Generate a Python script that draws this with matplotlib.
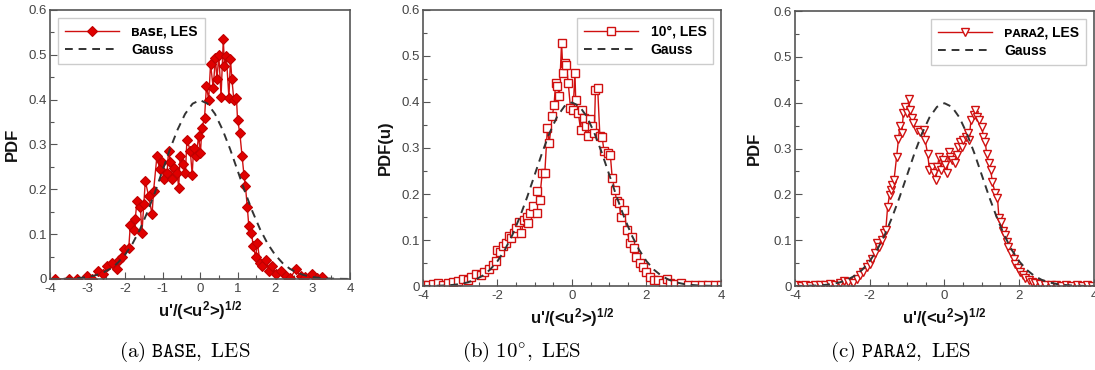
import matplotlib
matplotlib.use("Agg")
import matplotlib.pyplot as plt
from matplotlib.ticker import MultipleLocator, FuncFormatter

plt.rcParams['font.family'] = ['Liberation Sans', 'DejaVu Sans']
plt.rcParams['mathtext.fontset'] = 'custom'
plt.rcParams['mathtext.rm'] = 'Liberation Sans:bold'
plt.rcParams['mathtext.it'] = 'Liberation Sans:bold'
plt.rcParams['mathtext.bf'] = 'Liberation Sans:bold'

# ---------------- data ----------------
base_x = [-3.87, -3.5, -3.27, -3.02, -2.89, -2.71, -2.58, -2.49, -2.35, -2.22, -2.17, -2.08,
          -2.04, -1.9, -1.86, -1.77, -1.73, -1.68, -1.59, -1.55, -1.5, -1.46, -1.37, -1.28,
          -1.24, -1.15, -1.08, -1.02, -0.97, -0.88, -0.84, -0.79, -0.75, -0.7, -0.61, -0.57,
          -0.53, -0.45, -0.39, -0.35, -0.26, -0.21, -0.17, -0.1, -0.04, 0.01, 0.05, 0.12,
          0.17, 0.23, 0.28, 0.35, 0.41, 0.45, 0.5, 0.56, 0.62, 0.65, 0.7, 0.77, 0.81, 0.85,
          0.9, 0.97, 1.0, 1.06, 1.12, 1.17, 1.21, 1.26, 1.3, 1.37, 1.42, 1.48, 1.53, 1.6,
          1.66, 1.75, 1.84, 1.93, 2.02, 2.15, 2.28, 2.41, 2.55, 2.68, 2.81, 2.99, 3.12, 3.26]
base_y = [0.0, 0.0, 0.0, 0.006, 0.0, 0.017, 0.01, 0.028, 0.036, 0.022, 0.043, 0.05,
          0.066, 0.07, 0.12, 0.11, 0.133, 0.174, 0.16, 0.103, 0.167, 0.218, 0.185, 0.144,
          0.196, 0.274, 0.245, 0.26, 0.222, 0.237, 0.286, 0.26, 0.222, 0.248, 0.237, 0.203,
          0.274, 0.256, 0.237, 0.311, 0.286, 0.233, 0.293, 0.274, 0.319, 0.281, 0.337, 0.36,
          0.43, 0.4, 0.48, 0.426, 0.494, 0.445, 0.5, 0.407, 0.535, 0.475, 0.497, 0.404, 0.49, 0.445,
          0.4, 0.404, 0.355, 0.326, 0.274, 0.233, 0.207, 0.16, 0.118, 0.103, 0.073, 0.05, 0.08, 0.036,
          0.028, 0.043, 0.017, 0.028, 0.012, 0.017, 0.006, 0.002, 0.022, 0.006, 0.004, 0.01, 0.002, 0.004]

deg_x = [-4.0, -3.87, -3.74, -3.6, -3.46, -3.33, -3.2, -3.06, -2.93, -2.79, -2.7, -2.58,
         -2.45, -2.36, -2.22, -2.13, -2.04, -2.0, -1.94, -1.85, -1.76, -1.7, -1.63, -1.55,
         -1.49, -1.43, -1.36, -1.29, -1.22, -1.18, -1.12, -1.04, -0.95, -0.93, -0.87, -0.8,
         -0.73, -0.66, -0.61, -0.53, -0.48, -0.44, -0.39, -0.34, -0.28, -0.24, -0.19, -0.15,
         -0.1, -0.04, 0.03, 0.08, 0.1, 0.17, 0.23, 0.28, 0.33, 0.37, 0.43, 0.48, 0.54, 0.6,
         0.63, 0.69, 0.75, 0.81, 0.86, 0.97, 1.03, 1.08, 1.15, 1.2, 1.27, 1.31, 1.4, 1.47,
         1.56, 1.6, 1.67, 1.73, 1.82, 1.91, 2.0, 2.09, 2.21, 2.32, 2.45, 2.54, 2.63, 2.76,
         2.94, 3.12, 3.3, 3.48, 3.66, 3.84, 4.0]
deg_y = [0.002, 0.002, 0.004, 0.006, 0.002, 0.007, 0.009, 0.011, 0.015, 0.013, 0.02, 0.026,
         0.024, 0.031, 0.036, 0.046, 0.054, 0.078, 0.075, 0.086, 0.093, 0.109, 0.104, 0.115,
         0.126, 0.14, 0.115, 0.144, 0.151, 0.137, 0.158, 0.173, 0.158, 0.206, 0.187, 0.245,
         0.245, 0.343, 0.311, 0.369, 0.394, 0.441, 0.434, 0.412, 0.529, 0.463, 0.485, 0.481,
         0.441, 0.387, 0.383, 0.463, 0.405, 0.376, 0.34, 0.383, 0.365, 0.347, 0.325, 0.362, 0.347, 0.333,
         0.427, 0.43, 0.325, 0.324, 0.293, 0.289, 0.285, 0.235, 0.209, 0.184, 0.18, 0.151, 0.166, 0.122,
         0.093, 0.107, 0.082, 0.064, 0.049, 0.042, 0.031, 0.02, 0.013, 0.013, 0.007, 0.015, 0.006, 0.004,
         0.006, 0.003, 0.003, 0.002, 0.002, 0.002, 0.002]

para_x = [-3.98, -3.85, -3.72, -3.59, -3.46, -3.33, -3.2, -3.07, -2.94, -2.79, -2.7, -2.57,
          -2.44, -2.35, -2.26, -2.17, -2.08, -1.99, -1.93, -1.86, -1.81, -1.75, -1.68, -1.63,
          -1.57, -1.52, -1.47, -1.43, -1.39, -1.35, -1.28, -1.23, -1.19, -1.14, -1.1, -1.05,
          -0.99, -0.96, -0.92, -0.87, -0.83, -0.74, -0.65, -0.56, -0.52, -0.45, -0.4, -0.34,
          -0.29, -0.23, -0.19, -0.14, -0.1, -0.05, 0.02, 0.07, 0.11, 0.16, 0.21, 0.27, 0.33,
          0.37, 0.42, 0.46, 0.51, 0.57, 0.62, 0.66, 0.71, 0.78, 0.82, 0.87, 0.93, 1.0, 1.04,
          1.09, 1.13, 1.18, 1.24, 1.28, 1.36, 1.42, 1.46, 1.52, 1.58, 1.62, 1.67, 1.71, 1.78,
          1.85, 1.89, 1.96, 2.03, 2.09, 2.16, 2.25, 2.34, 2.43, 2.56, 2.7, 2.84, 2.98, 3.12,
          3.26, 3.4, 3.54, 3.68, 3.82, 3.96]
para_y = [0.002, 0.001, 0.002, 0.001, 0.003, 0.002, 0.003, 0.004, 0.003, 0.007, 0.011, 0.009,
          0.007, 0.015, 0.024, 0.031, 0.042, 0.049, 0.058, 0.071, 0.093, 0.086, 0.1, 0.115,
          0.122, 0.173, 0.199, 0.209, 0.22, 0.231, 0.282, 0.32, 0.349, 0.333, 0.377, 0.391,
          0.377, 0.409, 0.384, 0.366, 0.355, 0.34, 0.337, 0.34, 0.319, 0.289, 0.253, 0.26,
          0.246, 0.231, 0.26, 0.282, 0.253, 0.275, 0.264, 0.246, 0.293, 0.282, 0.275, 0.268, 0.286,
          0.304, 0.315, 0.304, 0.319, 0.326, 0.333, 0.319, 0.362, 0.373, 0.384, 0.369, 0.362, 0.348, 0.326,
          0.315, 0.289, 0.268, 0.253, 0.228, 0.202, 0.191, 0.148, 0.14, 0.119, 0.111, 0.097, 0.086, 0.071,
          0.06, 0.049, 0.039, 0.031, 0.024, 0.018, 0.013, 0.009, 0.007, 0.004, 0.003, 0.002, 0.002, 0.001,
          0.002, 0.001, 0.002, 0.001, 0.002, 0.001]

gauss_x = [-4.0, -3.8, -3.6, -3.4, -3.2, -3.0, -2.8, -2.6, -2.4, -2.2, -2.0, -1.8, -1.6, -1.4,
           -1.2, -1.0, -0.8, -0.6, -0.4, -0.2, 0.0, 0.2, 0.4, 0.6, 0.8, 1.0, 1.2, 1.4, 1.6,
           1.8, 2.0, 2.2, 2.4, 2.6, 2.8, 3.0, 3.2, 3.4, 3.6, 3.8, 4.0]
gauss_y = [0.0001, 0.0003, 0.0006, 0.0012, 0.0024, 0.0044, 0.0079, 0.0136, 0.0224, 0.0355,
           0.054, 0.079, 0.111, 0.150, 0.194, 0.242, 0.290, 0.333, 0.368, 0.391, 0.399,
           0.391, 0.368, 0.333, 0.290, 0.242, 0.194, 0.150, 0.111, 0.079, 0.054, 0.0355,
           0.0224, 0.0136, 0.0079, 0.0044, 0.0024, 0.0012, 0.0006, 0.0003, 0.0001]

labels = ["\u0299\u1d00\ua731\u1d07, LES", "10\u00b0, LES", "\u1d18\u1d00\u0280\u1d002, LES"]
ylabels = ["PDF", "PDF(u)", "PDF"]
captions = [r"$\mathrm{(a)\ }\mathtt{BASE}\mathrm{,\ LES}$",
            r"$\mathrm{(b)\ }\mathtt{10}^{\circ}\mathrm{,\ LES}$",
            r"$\mathrm{(c)\ }\mathtt{PARA2}\mathrm{,\ LES}$"]
xmajor = [1, 2, 2]

# ---------------- figure ----------------
fig = plt.figure(figsize=(10.95, 3.7), dpi=100)
rects = [[0.0457, 0.246, 0.274, 0.727],
         [0.3863, 0.227, 0.2721, 0.746],
         [0.726, 0.227, 0.273, 0.743]]
series = [(base_x, base_y, dict(marker='D', ms=5.4, mfc='#e00000', mec='#c00000', mew=0.8)),
          (deg_x, deg_y, dict(marker='s', ms=5.4, mfc='white', mec='#d01010', mew=1.0)),
          (para_x, para_y, dict(marker='v', ms=6.0, mfc='white', mec='#d01010', mew=1.0))]
leg_loc = ['upper left', 'upper right', 'upper right']
caption_x = [185, 522, 900]
ylab_x = [20, 393, 762]

red = '#d01010'
gray = '#555555'
for i in range(3):
    ax = fig.add_axes(rects[i])
    xs, ys, mk = series[i]
    ax.plot(xs, ys, color=red, lw=1.0, label=labels[i], **mk)
    ax.plot(gauss_x, gauss_y, color='#333333', lw=1.4, ls=(0, (4, 3)), label='Gauss')
    ax.set_xlim(-4, 4)
    ax.set_ylim(0, 0.6)
    ax.xaxis.set_major_locator(MultipleLocator(xmajor[i]))
    ax.xaxis.set_minor_locator(MultipleLocator(0.5))
    ax.yaxis.set_major_locator(MultipleLocator(0.1))
    ax.yaxis.set_minor_locator(MultipleLocator(0.05))
    ax.yaxis.set_major_formatter(FuncFormatter(lambda v, p: "0" if abs(v) < 1e-9 else f"{v:.1f}"))
    ax.xaxis.set_major_formatter(FuncFormatter(lambda v, p: f"{v:.0f}"))
    ax.tick_params(which='both', direction='in', top=False, right=False,
                   colors=gray, labelcolor='#444444', labelsize=9.5, width=0.8)
    ax.tick_params(which='major', length=5, pad=2)
    ax.tick_params(axis='x', which='major', pad=3)
    ax.tick_params(which='minor', length=3)
    for s in ax.spines.values():
        s.set_color('#555555')
        s.set_linewidth(1.2)
    ax.set_ylabel(ylabels[i], fontsize=12, fontweight='bold', color='#111111')
    ax.yaxis.set_label_coords((ylab_x[i] - rects[i][0] * 1095) / (rects[i][2] * 1095), 0.5)
    ax.set_xlabel(r"u'/(<u$^2$>)$^{1/2}$", fontsize=12, fontweight='bold', color='#111111',
                  labelpad=3)
    leg = ax.legend(loc=leg_loc[i], frameon=True, fancybox=False, handlelength=3.9,
                    borderaxespad=0.55, borderpad=0.5, labelspacing=0.3, handletextpad=0.9,
                    prop={'weight': 'bold', 'size': 10})
    leg.get_frame().set_edgecolor('#cccccc')
    leg.get_frame().set_linewidth(1.0)
    leg.get_frame().set_alpha(1.0)
    fig.text(caption_x[i] / 1095, 1 - 352 / 370, captions[i], ha='center', va='center',
             fontsize=15, math_fontfamily='cm')

fig.savefig("out.png", dpi=100)
